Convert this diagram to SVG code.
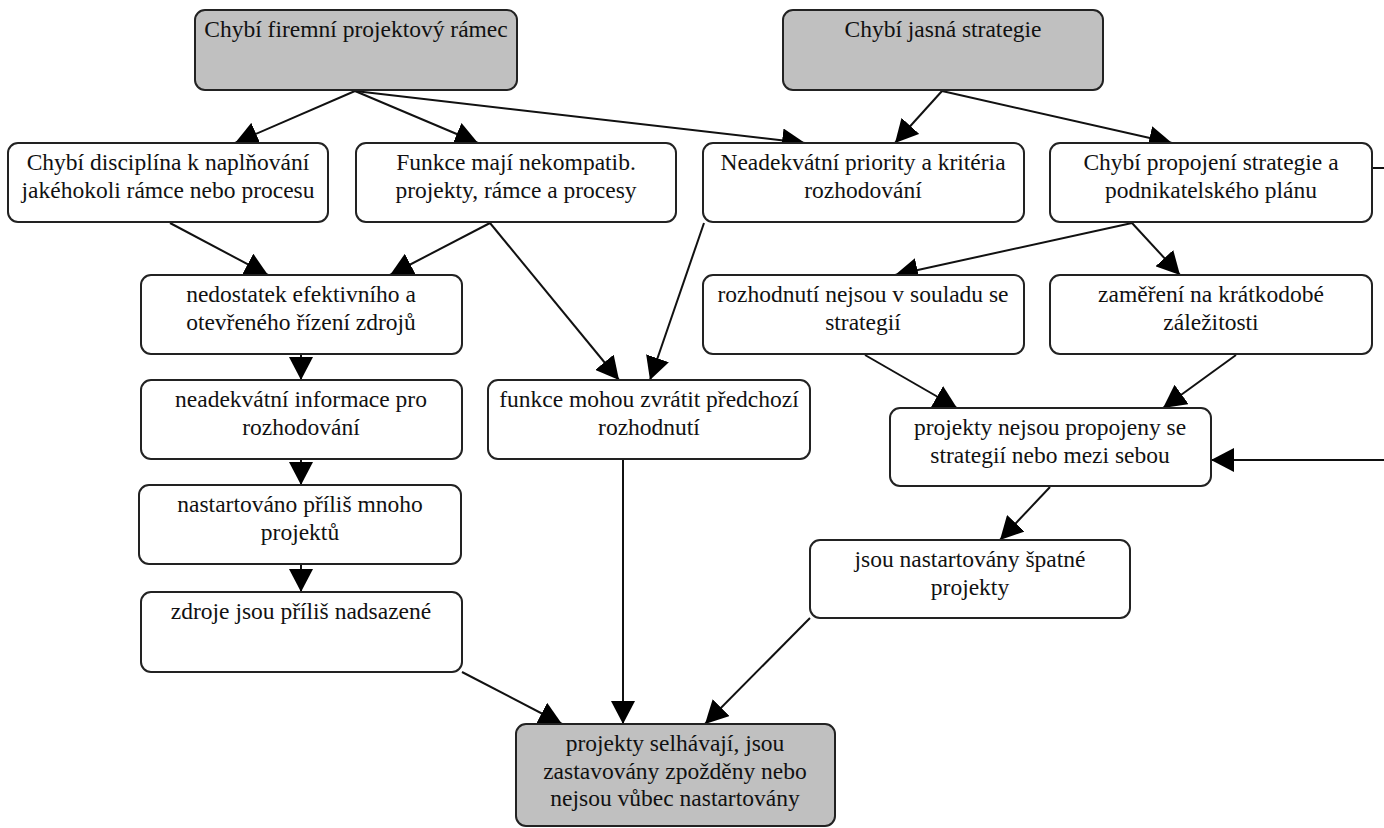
<svg xmlns="http://www.w3.org/2000/svg" width="1384" height="828" viewBox="0 0 1384 828" font-family="Liberation Serif, Times New Roman, serif">
<style>
.box{fill:#ffffff;stroke:#222;stroke-width:2}
.grey{fill:#c0c0c0}
.t{font-size:23.5px;fill:#111;text-anchor:middle}
.e{stroke:#111;stroke-width:2;fill:none;marker-end:url(#ah)}
.n{stroke:#111;stroke-width:2;fill:none}
</style>
<defs>
<marker id="ah" markerUnits="userSpaceOnUse" markerWidth="24" markerHeight="24" refX="23" refY="12" orient="auto" viewBox="0 0 24 24">
<path d="M0,0 L23,12 L0,24 z" fill="#000"/>
</marker>
</defs>
<rect width="1384" height="828" fill="#fff"/>
<g id="connectors">
<line class="e" x1="355" y1="91" x2="235" y2="143"/>
<line class="e" x1="355" y1="91" x2="478" y2="143"/>
<line class="e" x1="355" y1="91" x2="805" y2="143"/>
<line class="e" x1="942" y1="91" x2="895" y2="143"/>
<line class="e" x1="942" y1="91" x2="1172" y2="143"/>
<line class="n" x1="1372" y1="168" x2="1384" y2="168"/>
<line class="e" x1="1384" y1="460" x2="1211" y2="460"/>
<line class="e" x1="170" y1="223" x2="268" y2="275"/>
<line class="e" x1="490" y1="223" x2="390" y2="275"/>
<line class="e" x1="490" y1="223" x2="619" y2="380"/>
<line class="e" x1="704" y1="223" x2="650" y2="380"/>
<line class="e" x1="1132" y1="223" x2="895" y2="275"/>
<line class="e" x1="1132" y1="223" x2="1180" y2="275"/>
<line class="e" x1="301" y1="355" x2="301" y2="380"/>
<line class="e" x1="301" y1="460" x2="301" y2="485"/>
<line class="e" x1="301" y1="564" x2="301" y2="592"/>
<line class="e" x1="865" y1="355" x2="957" y2="408"/>
<line class="e" x1="1236" y1="355" x2="1163" y2="408"/>
<line class="e" x1="1050" y1="487" x2="1000" y2="540"/>
<line class="e" x1="462" y1="672" x2="562" y2="724"/>
<line class="e" x1="623" y1="460" x2="623" y2="724"/>
<line class="e" x1="810" y1="618" x2="705" y2="724"/>
</g>
<g id="n1"><rect class="box grey" x="195" y="10" width="322" height="80" rx="10"/><text class="t" x="356" y="37">Chybí firemní projektový rámec</text></g>
<g id="n2"><rect class="box grey" x="783" y="10" width="320" height="80" rx="10"/><text class="t" x="943" y="37">Chybí jasná strategie</text></g>
<g id="nA"><rect class="box" x="8" y="143" width="320" height="79" rx="10"/><text class="t" x="168" y="170">Chybí disciplína k naplňování</text><text class="t" x="168" y="198">jakéhokoli rámce nebo procesu</text></g>
<g id="nB"><rect class="box" x="356" y="143" width="320" height="79" rx="10"/><text class="t" x="516" y="170">Funkce mají nekompatib.</text><text class="t" x="516" y="198">projekty, rámce a procesy</text></g>
<g id="nC"><rect class="box" x="703" y="143" width="321" height="79" rx="10"/><text class="t" x="863" y="170">Neadekvátní priority a kritéria</text><text class="t" x="863" y="198">rozhodování</text></g>
<g id="nD"><rect class="box" x="1050" y="143" width="322" height="79" rx="10"/><text class="t" x="1211" y="170">Chybí propojení strategie a</text><text class="t" x="1211" y="198">podnikatelského plánu</text></g>
<g id="nE"><rect class="box" x="141" y="275" width="321" height="79" rx="10"/><text class="t" x="301" y="302">nedostatek efektivního a</text><text class="t" x="301" y="330">otevřeného řízení zdrojů</text></g>
<g id="nF"><rect class="box" x="703" y="275" width="321" height="79" rx="10"/><text class="t" x="863" y="302">rozhodnutí nejsou v souladu se</text><text class="t" x="863" y="330">strategií</text></g>
<g id="nG"><rect class="box" x="1050" y="275" width="322" height="79" rx="10"/><text class="t" x="1211" y="302">zaměření na krátkodobé</text><text class="t" x="1211" y="330">záležitosti</text></g>
<g id="nH"><rect class="box" x="141" y="380" width="321" height="79" rx="10"/><text class="t" x="301" y="407">neadekvátní informace pro</text><text class="t" x="301" y="435">rozhodování</text></g>
<g id="nI"><rect class="box" x="488" y="380" width="322" height="79" rx="10"/><text class="t" x="649" y="407">funkce mohou zvrátit předchozí</text><text class="t" x="649" y="435">rozhodnutí</text></g>
<g id="nJ"><rect class="box" x="890" y="408" width="321" height="78" rx="10"/><text class="t" x="1050" y="435">projekty nejsou propojeny se</text><text class="t" x="1050" y="463">strategií nebo mezi sebou</text></g>
<g id="nK"><rect class="box" x="139" y="485" width="322" height="79" rx="10"/><text class="t" x="300" y="512">nastartováno příliš mnoho</text><text class="t" x="300" y="540">projektů</text></g>
<g id="nL"><rect class="box" x="810" y="540" width="320" height="78" rx="10"/><text class="t" x="970" y="567">jsou nastartovány špatné</text><text class="t" x="970" y="595">projekty</text></g>
<g id="nM"><rect class="box" x="141" y="592" width="321" height="80" rx="10"/><text class="t" x="301" y="619">zdroje jsou příliš nadsazené</text></g>
<g id="nN"><rect class="box grey" x="516" y="724" width="319" height="102" rx="10"/><text class="t" x="675" y="751">projekty selhávají, jsou</text><text class="t" x="675" y="779">zastavovány zpožděny nebo</text><text class="t" x="675" y="806">nejsou vůbec nastartovány</text></g>
</svg>
